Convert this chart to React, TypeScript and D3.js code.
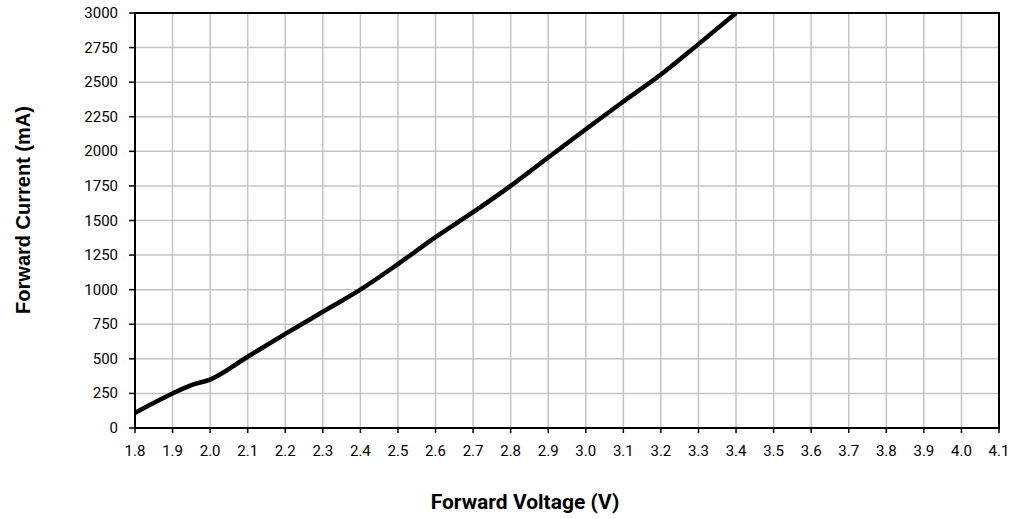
import React from "react";
import * as d3 from "d3";

const voltage = [1.8, 1.9, 1.95, 2.0, 2.1, 2.2, 2.3, 2.4, 2.5, 2.6, 2.7, 2.8, 2.9, 3.0, 3.1, 3.2, 3.3, 3.4];
const current = [110, 250, 310, 350, 515, 680, 840, 1000, 1185, 1380, 1560, 1750, 1955, 2160, 2360, 2555, 2775, 3000];
const xTicks = [1.8, 1.9, 2.0, 2.1, 2.2, 2.3, 2.4, 2.5, 2.6, 2.7, 2.8, 2.9, 3.0, 3.1, 3.2, 3.3, 3.4, 3.5, 3.6, 3.7, 3.8, 3.9, 4.0, 4.1];
const yTicks = [0, 250, 500, 750, 1000, 1250, 1500, 1750, 2000, 2250, 2500, 2750, 3000];
const xTitle = "Forward Voltage (V)";
const yTitle = "Forward Current (mA)";

const W = 1013;
const H = 519;
const M = { left: 135, right: 999, top: 13, bottom: 428 };

export default function App() {
  const x = d3.scaleLinear().domain([1.8, 4.1]).range([M.left, M.right]);
  const y = d3.scaleLinear().domain([0, 3000]).range([M.bottom, M.top]);
  const pts = voltage.map((v, i) => [v, current[i]] as [number, number]);
  const line = d3
    .line<[number, number]>()
    .x((d) => x(d[0]))
    .y((d) => y(d[1]))
    .curve(d3.curveMonotoneX);
  const font = "Roboto, 'Noto Sans', sans-serif";
  return (
    <svg
      width={W}
      height={H}
      style={{ position: "absolute", left: 0, top: 0, background: "#fff" }}
    >
      <rect x={0} y={0} width={W} height={H} fill="#fff" />
      <defs>
        <clipPath id="plot">
          <rect x={M.left} y={M.top} width={M.right - M.left} height={M.bottom - M.top} />
        </clipPath>
      </defs>
      {xTicks.map((t) => (
        <line key={"gx" + t} x1={x(t)} x2={x(t)} y1={M.top} y2={M.bottom} stroke="#c4c4c4" strokeWidth={1.5} />
      ))}
      {yTicks.map((t) => (
        <line key={"gy" + t} x1={M.left} x2={M.right} y1={y(t)} y2={y(t)} stroke="#c4c4c4" strokeWidth={1.5} />
      ))}
      <path d={line(pts) || ""} fill="none" stroke="#000" strokeWidth={4.5} clipPath="url(#plot)" strokeLinejoin="round" />
      <rect x={M.left} y={M.top} width={M.right - M.left} height={M.bottom - M.top} fill="none" stroke="#000" strokeWidth={2} />
      {xTicks.map((t) => (
        <g key={"xt" + t}>
          <line x1={x(t)} x2={x(t)} y1={M.bottom} y2={M.bottom + 5} stroke="#000" strokeWidth={1.5} />
          <text x={x(t)} y={456} textAnchor="middle" fontFamily={font} fontSize={15} fill="#000">
            {t.toFixed(1)}
          </text>
        </g>
      ))}
      {yTicks.map((t) => (
        <g key={"yt" + t}>
          <line x1={M.left - 6} x2={M.left} y1={y(t)} y2={y(t)} stroke="#000" strokeWidth={1.5} />
          <text x={118} y={y(t) + 5} textAnchor="end" fontFamily={font} fontSize={15} fill="#000">
            {t}
          </text>
        </g>
      ))}
      <text x={525} y={509} textAnchor="middle" fontFamily={font} fontWeight="bold" fontSize={21} fill="#000">
        {xTitle}
      </text>
      <text
        transform={`translate(30, 210) rotate(-90)`}
        textAnchor="middle"
        fontFamily="'Liberation Sans', Arial, sans-serif"
        fontWeight="bold"
        fontSize={20}
        fill="#000"
      >
        {yTitle}
      </text>
    </svg>
  );
}
